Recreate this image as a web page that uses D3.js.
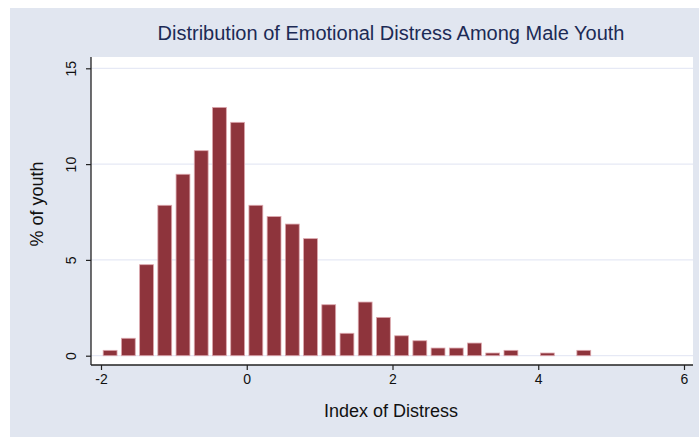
<!DOCTYPE html>
<html>
<head>
<meta charset="utf-8">
<script src="https://cdn.jsdelivr.net/npm/d3@7"></script>
<style>
  body { margin: 0; background: #fff; }
  text { font-family: "Liberation Sans", Arial, sans-serif; }
</style>
</head>
<body>
<script>
// bin start values (width 0.25) and percent of youth in each bin
var binStarts = [-2, -1.75, -1.5, -1.25, -1, -0.75, -0.5, -0.25, 0, 0.25, 0.5, 0.75, 1, 1.25,
                 1.5, 1.75, 2, 2.25, 2.5, 2.75, 3, 3.25, 3.5, 3.75, 4, 4.25, 4.5];
var percents = [0.28, 0.91, 4.75, 7.85, 9.47, 10.7, 12.96, 12.18, 7.85, 7.26, 6.87, 6.11, 2.66, 1.17,
                2.8, 2.0, 1.04, 0.78, 0.4, 0.4, 0.66, 0.14, 0.28, 0, 0.14, 0, 0.28];
var binWidth = 0.25;
var xTicks = [-2, 0, 2, 4, 6];
var yTicks = [0, 5, 10, 15];

var W = 699, H = 437;

var bins = binStarts.map(function(s, i) {
  return {start: s, pct: percents[i]};
}).filter(function(b) { return b.pct > 0; });

var svg = d3.select("body").append("svg")
    .attr("width", W)
    .attr("height", H);

// outer background panel
svg.append("rect")
    .attr("x", 10).attr("y", 8)
    .attr("width", W - 10).attr("height", H - 8)
    .attr("fill", "#e1e6f0");

// plot region
var plot = {left: 91, top: 57, right: 693, bottom: 365};
svg.append("rect")
    .attr("x", plot.left).attr("y", plot.top)
    .attr("width", plot.right - plot.left)
    .attr("height", plot.bottom - plot.top)
    .attr("fill", "#fff");

var x = d3.scaleLinear().domain([-2, 6]).range([101, 684]);
var y = d3.scaleLinear().domain([0, 15]).range([355.7, 68.3]);

// gridlines
svg.append("g").selectAll("line")
    .data(yTicks)
    .enter().append("line")
      .attr("x1", plot.left).attr("x2", plot.right)
      .attr("y1", function(d) { return y(d); })
      .attr("y2", function(d) { return y(d); })
      .attr("stroke", "#e6e9f5")
      .attr("stroke-width", 1.3);

// bars
var gap = 0.06;
svg.append("g").selectAll("rect")
    .data(bins)
    .enter().append("rect")
      .attr("x", function(d) { return x(d.start + gap / 2); })
      .attr("width", x(binWidth - gap) - x(0))
      .attr("y", function(d) { return y(d.pct); })
      .attr("height", function(d) { return y(0) - y(d.pct); })
      .attr("fill", "#8e343c")
      .attr("stroke", "#dca7ad")
      .attr("stroke-width", 0.8);

// x axis
var xAxis = svg.append("g")
    .attr("transform", "translate(0," + plot.bottom + ")")
    .call(d3.axisBottom(x).tickValues(xTicks).tickSize(5).tickSizeOuter(0)
      .tickFormat(function(d) { return String(d); }));
xAxis.select(".domain").remove();
xAxis.append("line")
    .attr("x1", plot.left).attr("x2", plot.right)
    .attr("stroke", "#222").attr("stroke-width", 1.3);
xAxis.selectAll(".tick line").attr("stroke", "#222").attr("stroke-width", 1.2);
xAxis.selectAll(".tick text")
    .attr("y", 9)
    .attr("font-size", 14)
    .attr("fill", "#111")
    .style("font-family", "Liberation Sans, Arial, sans-serif");

// y axis
var yAxis = svg.append("g")
    .attr("transform", "translate(" + plot.left + ",0)")
    .call(d3.axisLeft(y).tickValues(yTicks).tickSize(5).tickSizeOuter(0));
yAxis.select(".domain").remove();
yAxis.append("line")
    .attr("y1", plot.top).attr("y2", plot.bottom)
    .attr("stroke", "#222").attr("stroke-width", 1.3);
yAxis.selectAll(".tick line").attr("stroke", "#222").attr("stroke-width", 1.2);
yAxis.selectAll(".tick text")
    .attr("x", 0).attr("dy", 0)
    .attr("transform", "translate(-15,0) rotate(-90)")
    .attr("text-anchor", "middle")
    .attr("font-size", 14)
    .attr("fill", "#111")
    .style("font-family", "Liberation Sans, Arial, sans-serif");

// titles
svg.append("text")
    .attr("x", 391).attr("y", 40)
    .attr("text-anchor", "middle")
    .attr("font-size", 20)
    .attr("fill", "#1c2a55")
    .text("Distribution of Emotional Distress Among Male Youth");

svg.append("text")
    .attr("x", 391).attr("y", 417)
    .attr("text-anchor", "middle")
    .attr("font-size", 18)
    .attr("fill", "#111")
    .text("Index of Distress");

svg.append("text")
    .attr("transform", "translate(43,204) rotate(-90)")
    .attr("text-anchor", "middle")
    .attr("font-size", 18)
    .attr("fill", "#111")
    .text("% of youth");
</script>
</body>
</html>
